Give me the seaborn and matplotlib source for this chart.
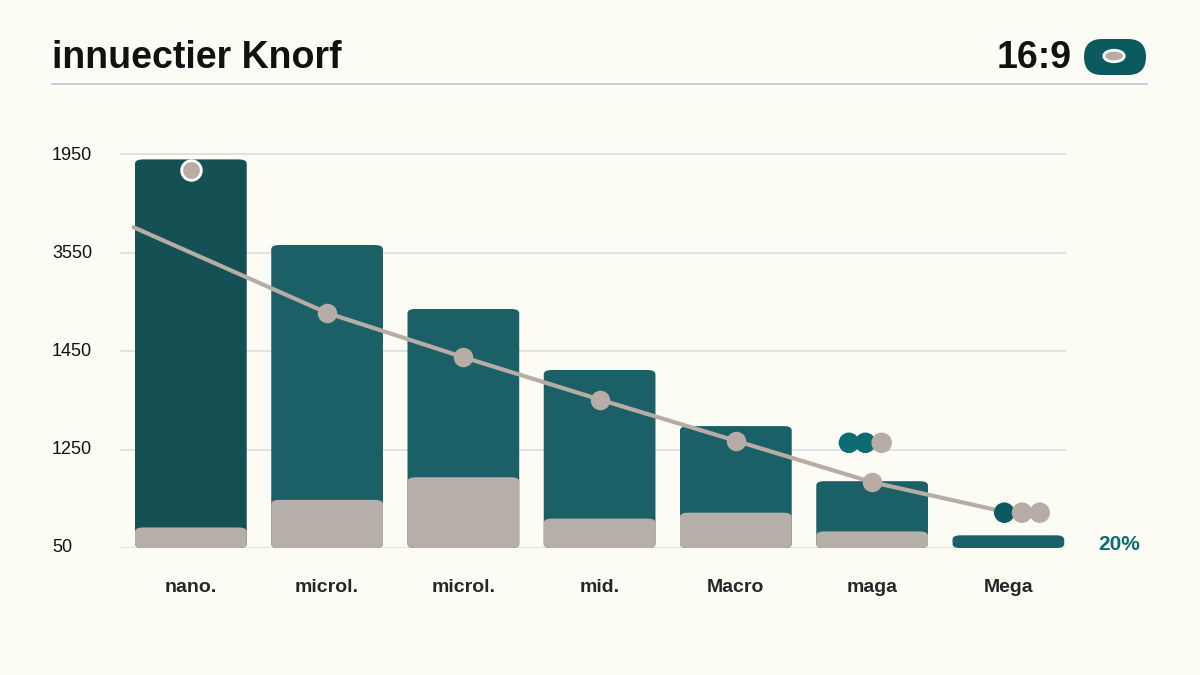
import matplotlib.pyplot as plt
import seaborn as sns
import pandas as pd
from matplotlib.patches import FancyBboxPatch

categories = ["nano.", "microl.", "microl. ", "mid.", "Macro", "maga", "Mega"]
total = [3.95, 3.08, 2.43, 1.81, 1.24, 0.68, 0.13]
base = [0.21, 0.49, 0.72, 0.30, 0.36, 0.17, 0.0]
trend_x = [-0.42, 1, 2, 3, 4, 5, 6]
trend_y = [3.26, 2.39, 1.94, 1.51, 1.09, 0.67, 0.36]
marker_x = [1, 2, 3, 4, 5]
marker_y = [2.39, 1.94, 1.51, 1.09, 0.67]
ytick_labels = ["50", "1250", "1450", "3550", "1950"]

BG = "#fcfcf5"
TEAL = "#0e6b73"
TEAL_D = "#0b5a5e"
BEIGE = "#b8ada6"

sns.set_style("white")
plt.rcParams["font.family"] = ["Liberation Sans", "DejaVu Sans"]
fig = plt.figure(figsize=(12, 6.75), dpi=100, facecolor=BG)
ax = fig.add_axes([0.1, 0.188, 0.788, 0.605], facecolor=BG)

df = pd.DataFrame({"cat": categories, "total": total, "base": base})
colors = [TEAL_D] + [TEAL] * 6
sns.barplot(data=df, x="cat", y="total", hue="cat", palette=colors, width=0.82,
            legend=False, ax=ax, zorder=2)
sns.barplot(data=df, x="cat", y="base", color=BEIGE, width=0.82, ax=ax, zorder=3)

# round the bar tops
for p in list(ax.patches):
    x, y, w, h = p.get_x(), p.get_y(), p.get_width(), p.get_height()
    if h <= 0:
        p.remove()
        continue
    r = FancyBboxPatch((x, y), w, h, boxstyle="round,pad=0,rounding_size=0.06",
                       mutation_aspect=1 / 1.4, facecolor=p.get_facecolor(),
                       edgecolor="none", zorder=p.get_zorder())
    p.remove()
    ax.add_patch(r)

sns.lineplot(x=trend_x, y=trend_y, color=BEIGE, lw=3, ax=ax, zorder=4)
ax.scatter(marker_x, marker_y, s=170, color=BEIGE, zorder=5)
ax.scatter([0], [3.84], s=200, color=BEIGE, edgecolor="white", lw=2, zorder=5)
ax.scatter([4.83, 4.95, 5.07], [1.07, 1.07, 1.07], s=190,
           color=[TEAL, TEAL, BEIGE], zorder=5)
ax.scatter([5.97, 6.1, 6.23], [0.36, 0.36, 0.36], s=190,
           color=[TEAL_D, BEIGE, BEIGE], zorder=5)

ax.set_xlim(-0.52, 6.42)
ax.set_ylim(0, 4.15)
for i in range(5):
    ax.axhline(i, color="#dcdce6", lw=1.2, zorder=1)
    fig.text(52 / 1200, 1 - (548 - i * 98.25) / 675, ytick_labels[i],
             fontsize=13, ha="left", va="center", color="#111")
ax.set_yticks([])
ax.set_xlabel("")
ax.set_ylabel("")
ax.set_xticks(range(7))
ax.set_xticklabels(["nano.", "microl.", "microl.", "mid.", "Macro", "maga", "Mega"],
                   fontsize=14, fontweight="bold")
ax.tick_params(axis="x", length=0, pad=22)
sns.despine(ax=ax, left=True, bottom=True)

fig.text(52 / 1200, 1 - 58 / 675, "innuectier Knorf", fontsize=27,
         fontweight="bold", va="center", color="#111")
fig.text(1072 / 1200, 1 - 58 / 675, "16:9", fontsize=27, fontweight="bold",
         va="center", ha="right", color="#111")
fig.add_artist(plt.Line2D([52 / 1200, 1147 / 1200], [1 - 84 / 675] * 2,
                          color="#c3c3d6", lw=1.2))
pill = FancyBboxPatch((1084 / 1200, 1 - 75 / 675), 62 / 1200, 36 / 675,
                      boxstyle="round,pad=0,rounding_size=0.015",
                      mutation_aspect=1200 / 675, transform=fig.transFigure,
                      facecolor=TEAL_D, edgecolor="none")
fig.add_artist(pill)
fig.add_artist(plt.Circle((1114 / 1200, 1 - 56 / 675), 0.0085,
                          transform=fig.transFigure, facecolor=BEIGE,
                          edgecolor="white", lw=2))
fig.text(1098 / 1200, 1 - 545 / 675, "20%", fontsize=15, fontweight="bold",
         va="center", color=TEAL)

fig.savefig("out.png", dpi=100, facecolor=BG)
